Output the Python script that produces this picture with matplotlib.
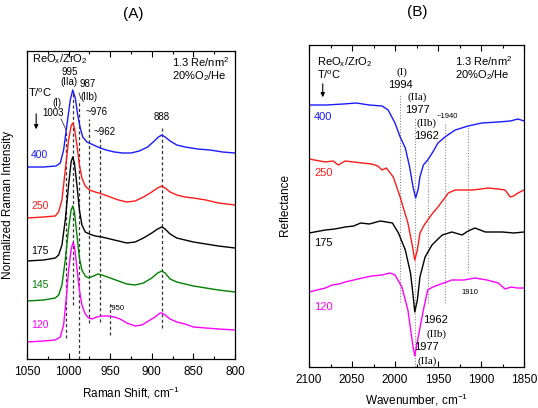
import matplotlib
matplotlib.use("Agg")
import matplotlib.pyplot as plt
from matplotlib.ticker import MultipleLocator

plt.rcParams['font.family'] = ['Liberation Sans', 'DejaVu Sans']
plt.rcParams['mathtext.fontset'] = 'custom'
plt.rcParams['mathtext.rm'] = 'Liberation Sans'
plt.rcParams['mathtext.it'] = 'Liberation Sans'

# ---------------- Panel A: Raman ----------------
raman_x_400 = [1050, 1030, 1015, 1010, 1006, 1002, 998, 995, 992, 989, 986, 983, 978, 970, 962, 955, 945, 935,
               925, 915, 905, 897, 892, 888, 884, 878, 870, 860, 845, 830, 815, 800]
raman_400 = [192, 192, 193, 196, 209, 234, 259, 269, 261, 244, 231, 222, 217, 214, 211, 209, 207, 206,
             206, 208, 212, 218, 222, 224, 222, 218, 214, 212, 210, 209, 207, 206]

raman_x_250 = [1050, 1030, 1016, 1012, 1008, 1004, 1000, 997, 995, 993, 990, 987, 984, 980, 975, 968, 960, 950,
               940, 930, 920, 910, 900, 893, 888, 884, 878, 870, 860, 850, 835, 820, 800]
raman_250 = [141, 142, 143, 147, 159, 189, 219, 233, 236, 231, 214, 194, 181, 173, 169, 167, 165, 162,
             159, 157, 158, 162, 167, 171, 173, 171, 167, 164, 162, 161, 159, 156, 154]

raman_x_175 = raman_x_250
raman_175 = [98, 99, 101, 104, 114, 139, 174, 197, 202, 196, 174, 149, 134, 127, 125, 123, 122, 120,
             118, 116, 117, 121, 126, 130, 132, 130, 125, 121, 119, 117, 115, 113, 111]

raman_x_145 = [1050, 1030, 1016, 1012, 1008, 1004, 1000, 997, 995, 993, 990, 987, 984, 980, 976, 970, 965, 960,
               950, 940, 930, 920, 910, 900, 893, 888, 884, 878, 870, 860, 850, 835, 820, 800]
raman_145 = [58, 59, 61, 64, 74, 99, 131, 149, 153, 147, 124, 101, 89, 83, 81, 83, 85, 84,
             81, 78, 75, 74, 76, 81, 86, 88, 86, 80, 77, 75, 73, 71, 69, 67]

raman_x_120 = [1050, 1030, 1016, 1010, 1006, 1003, 1000, 997, 995, 993, 990, 987, 984, 980, 976, 972, 966, 960,
               952, 945, 938, 930, 920, 912, 904, 896, 890, 888, 884, 878, 870, 860, 850, 835, 820, 800]
raman_120 = [17, 18, 19, 22, 34, 59, 89, 109, 116, 113, 91, 69, 54, 45, 41, 40, 42, 43,
             43, 42, 40, 36, 33, 34, 38, 42, 46, 46, 44, 40, 37, 35, 32, 31, 30, 29]

raman_temps = ['400', '250', '175', '145', '120']
raman_colors = ['#1a1aff', '#ff1a1a', '#000000', '#008000', '#ff00ff']

# dashed marker lines: position, lower, upper (intensity units)
raman_marks = [1003, 995, 987, 976, 962, 888, 950]
raman_marks_lo = [21, 54, 0, 36, 37, 31, 24]
raman_marks_hi = [227, 266, 259, 240, 220, 233, 56]

# ---------------- Panel B: DRIFTS ----------------
ir_x_400 = [2100, 2080, 2060, 2045, 2030, 2015, 2008, 2000, 1994, 1988, 1983, 1979, 1976, 1973, 1971, 1967,
            1962, 1956, 1950, 1942, 1930, 1915, 1899, 1880, 1866, 1857, 1850]
ir_400 = [262, 262, 263, 264, 262, 261, 257, 244, 230, 219, 200, 180, 169, 178, 190, 202,
          207, 215, 224, 230, 237, 241, 244, 245, 246, 248, 246]

ir_x_250 = [2100, 2081, 2072, 2066, 2058, 2048, 2038, 2027, 2020, 2015, 2010, 2002, 1994, 1992, 1985, 1980,
            1977, 1974, 1971, 1966, 1962, 1956, 1950, 1945, 1942, 1938, 1930, 1920, 1910, 1900, 1892, 1880,
            1872, 1866, 1862, 1857, 1850]
ir_250 = [208, 205, 206, 202, 206, 205, 204, 203, 201, 197, 199, 190, 170, 164, 144, 122,
          107, 117, 134, 142, 147, 154, 160, 166, 169, 174, 177, 177, 177, 178, 179, 178,
          177, 170, 171, 174, 177]

ir_x_175 = [2100, 2081, 2070, 2058, 2048, 2040, 2030, 2017, 2010, 2003, 1996, 1988, 1982, 1979, 1977, 1974,
            1971, 1965, 1957, 1950, 1945, 1934, 1922, 1915, 1907, 1895, 1887, 1875, 1862, 1850]
ir_175 = [134, 137, 138, 140, 141, 144, 143, 146, 145, 144, 134, 117, 94, 72, 55, 67,
          90, 110, 122, 128, 132, 135, 132, 136, 139, 135, 135, 135, 134, 135]

ir_x_120 = [2100, 2081, 2073, 2065, 2058, 2048, 2038, 2027, 2015, 2006, 2000, 1992, 1985, 1979, 1977, 1973,
            1967, 1962, 1956, 1950, 1940, 1934, 1920, 1907, 1893, 1880, 1872, 1865, 1858, 1850]
ir_120 = [75, 79, 82, 83, 85, 87, 89, 91, 92, 94, 92, 80, 57, 20, 11, 30,
          57, 77, 80, 82, 85, 87, 87, 89, 87, 84, 78, 80, 79, 79]

ir_temps = ['400', '250', '175', '120']
ir_colors = ['#1a1aff', '#ff1a1a', '#000000', '#ff00ff']

ir_marks = [1994, 1977, 1962, 1942, 1915]
ir_marks_lo = [65, 0, 64, 64, 94]
ir_marks_hi = [272, 249, 210, 244, 240]

# ---------------- figure ----------------
fig = plt.figure(figsize=(5.38, 4.08), dpi=100)
axA = fig.add_axes([27/538, 49/408, 208/538, 308/408])
axB = fig.add_axes([309/538, 41/408, 215/538, 322/408])

TICK_FS = 8.5
for ax in (axA, axB):
    ax.tick_params(axis='x', which='major', direction='in', length=4, width=0.8, top=True,
                   labelsize=TICK_FS, pad=5)
    ax.tick_params(axis='x', which='minor', direction='in', length=2.5, width=0.8, top=True)
    ax.tick_params(axis='y', which='both', left=False, right=False, labelleft=False)
    ax.xaxis.set_major_locator(MultipleLocator(50))
    ax.xaxis.set_minor_locator(MultipleLocator(25))
    for s in ax.spines.values():
        s.set_linewidth(0.9)

# Panel A
axA.set_xlim(1050, 800)
axA.set_ylim(0, 308)
for xm, lo, hi in zip(raman_marks, raman_marks_lo, raman_marks_hi):
    axA.plot([xm, xm], [lo, hi], color='#333333', lw=0.9, ls=(0, (2.5, 2)), zorder=1)
series_A = [(raman_x_400, raman_400), (raman_x_250, raman_250), (raman_x_175, raman_175),
            (raman_x_145, raman_145), (raman_x_120, raman_120)]
for (xs, ys), c in zip(series_A, raman_colors):
    axA.plot(xs, ys, color=c, lw=1.0, zorder=2)
labA_y = [204, 153, 108, 74, 34]
for t, c, y in zip(raman_temps, raman_colors, labA_y):
    axA.text(1045, y, t, color=c, fontsize=7.5, ha='left', va='center')

fs_in = 7
axA.text(1044, 300, r'ReO$_\mathrm{x}$/ZrO$_\mathrm{2}$', fontsize=8, ha='left', va='center')
axA.text(876, 297, r'1.3 Re/nm$^\mathrm{2}$', fontsize=8, ha='left', va='center')
axA.text(876, 283, r'20%O$_\mathrm{2}$/He', fontsize=8, ha='left', va='center')
axA.text(999, 287, '995', fontsize=fs_in, ha='center', va='center')
axA.text(999, 277, '(IIa)', fontsize=fs_in, ha='center', va='center')
axA.text(977, 275, '987', fontsize=fs_in, ha='center', va='center')
axA.text(975, 262, '(IIb)', fontsize=fs_in, ha='center', va='center')
axA.plot([987.5, 985], [266, 260], color='#333333', lw=0.6)
axA.text(1049, 266, r'T/$^\mathrm{o}$C', fontsize=8, ha='left', va='center')
axA.text(1014, 256, '(I)', fontsize=fs_in, ha='center', va='center')
axA.text(1019, 246, '1003', fontsize=fs_in, ha='center', va='center')
axA.plot([1009, 1003], [240, 229], color='#333333', lw=0.6)
axA.annotate('', xy=(1039, 227), xytext=(1039, 248),
             arrowprops=dict(arrowstyle='-|>', color='black', lw=0.8, mutation_scale=6))
axA.text(966, 247, '~976', fontsize=fs_in, ha='center', va='center')
axA.text(957, 227, '~962', fontsize=fs_in, ha='center', va='center')
axA.text(888, 242, '888', fontsize=fs_in, ha='center', va='center')
axA.text(949, 51, "'950", fontsize=5.5, ha='left', va='center')
axA.set_xlabel(r'Raman Shift, cm$^\mathrm{-1}$', fontsize=8.5, labelpad=5)
fig.text(8/538, 1 - 205/408, 'Normalized Raman Intensity', rotation=90, fontsize=8.5,
         ha='center', va='center')

# Panel B
axB.set_xlim(2100, 1850)
axB.set_ylim(0, 322)
for xm, lo, hi in zip(ir_marks, ir_marks_lo, ir_marks_hi):
    axB.plot([xm, xm], [lo, hi], color='#888888', lw=0.8, ls=(0, (1, 1.5)), zorder=1)
series_B = [(ir_x_400, ir_400), (ir_x_250, ir_250), (ir_x_175, ir_175), (ir_x_120, ir_120)]
for (xs, ys), c in zip(series_B, ir_colors):
    axB.plot(xs, ys, color=c, lw=1.0, zorder=2)
labB_y = [250, 194, 124, 60]
for t, c, y in zip(ir_temps, ir_colors, labB_y):
    axB.text(2094, y, t, color=c, fontsize=8, ha='left', va='center')

serif = ['Liberation Serif', 'DejaVu Serif']
axB.text(2091, 305, r'ReO$_\mathrm{x}$/ZrO$_\mathrm{2}$', fontsize=8, ha='left', va='center')
axB.text(2091, 292, r'T/$^\mathrm{o}$C', fontsize=8, ha='left', va='center')
axB.annotate('', xy=(2084, 267), xytext=(2084, 286),
             arrowprops=dict(arrowstyle='-|>', color='black', lw=0.8, mutation_scale=6))
axB.text(1930, 306, r'1.3 Re/nm$^\mathrm{2}$', fontsize=8, ha='left', va='center')
axB.text(1930, 292, r'20%O$_\mathrm{2}$/He', fontsize=8, ha='left', va='center')
axB.text(1992, 295, '(I)', fontsize=8, ha='center', va='center', family=serif)
axB.text(1994, 282, '1994', fontsize=8, ha='center', va='center')
axB.text(1974, 270, '(IIa)', fontsize=8, ha='center', va='center', family=serif)
axB.text(1974, 257, '1977', fontsize=8, ha='center', va='center')
axB.text(1963, 244, '(IIb)', fontsize=8, ha='center', va='center', family=serif)
axB.text(1951, 250, '~1940', fontsize=5.5, ha='left', va='center')
axB.text(1963, 231, '1962', fontsize=8, ha='center', va='center')
axB.text(1953, 47, '1962', fontsize=8, ha='center', va='center')
axB.text(1952, 33, '(IIb)', fontsize=8, ha='center', va='center', family=serif)
axB.text(1963, 20, '1977', fontsize=8, ha='center', va='center')
axB.text(1963, 6, '(IIa)', fontsize=8, ha='center', va='center', family=serif)
axB.text(1913, 74, '1910', fontsize=5.5, ha='center', va='center')
axB.set_xlabel(r'Wavenumber, cm$^\mathrm{-1}$', fontsize=8.5, labelpad=4)
fig.text(285/538, 1 - 205/408, 'Reflectance', rotation=90, fontsize=8.5, ha='center', va='center')

fig.text(133/538, 1 - 14/408, '(A)', fontsize=11, ha='center', va='center')
fig.text(417/538, 1 - 12/408, '(B)', fontsize=11, ha='center', va='center')

fig.savefig('out.png', dpi=100)
